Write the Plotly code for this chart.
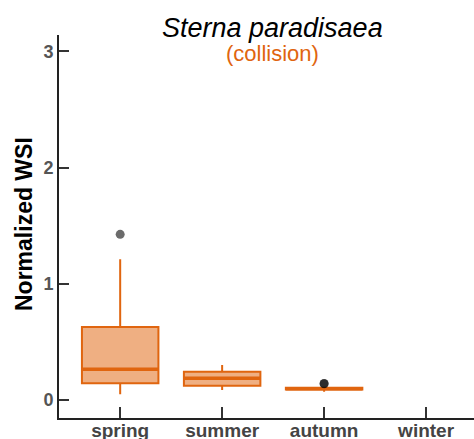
import plotly.graph_objects as go

# Seasonal normalized WSI summary for Sterna paradisaea (collision)
seasons = ["spring", "summer", "autumn", "winter"]
box_seasons = ["spring", "summer", "autumn"]
q1 = [0.143, 0.123, 0.090]
median = [0.264, 0.186, 0.097]
q3 = [0.627, 0.243, 0.105]
lower_whisker = [0.050, 0.086, 0.070]
upper_whisker = [1.210, 0.300, 0.105]

outlier_seasons = ["spring", "autumn", "autumn"]
outlier_values = [1.425, 0.140, 0.142]

y_ticks = [0, 1, 2, 3]

ORANGE = "#E0650F"
FILL = "rgba(224,101,15,0.52)"
FONT = "Liberation Sans, Arial, sans-serif"

W, H = 474, 439
ML, MR, MT, MB = 59, 0, 35, 21
PW, PH = W - ML - MR, H - MT - MB


def px_x(x):
    return (x - ML) / PW


def px_y(y):
    return (H - MB - y) / PH


fig = go.Figure()

# boxes with whiskers
fig.add_trace(go.Box(
    x=box_seasons, q1=q1, median=median, q3=q3,
    lowerfence=lower_whisker, upperfence=upper_whisker,
    boxpoints=False, width=0.75, whiskerwidth=0,
    line=dict(color=ORANGE, width=2), fillcolor=FILL,
    showlegend=False, hoverinfo="skip",
))

# heavier median bar drawn as a collapsed box at the median
fig.add_trace(go.Box(
    x=box_seasons, q1=median, median=median, q3=median,
    lowerfence=median, upperfence=median,
    boxpoints=False, width=0.75, whiskerwidth=0,
    line=dict(color=ORANGE, width=3.5), fillcolor=ORANGE,
    showlegend=False, hoverinfo="skip",
))

# outliers
fig.add_trace(go.Scatter(
    x=outlier_seasons, y=outlier_values, mode="markers",
    marker=dict(color="rgba(0,0,0,0.58)", size=9, line=dict(width=0)),
    showlegend=False, hoverinfo="skip",
))

fig.update_layout(
    width=W, height=H,
    margin=dict(l=ML, r=MR, t=MT, b=MB),
    plot_bgcolor="white", paper_bgcolor="white",
    boxmode="overlay",
    font=dict(family=FONT),
    annotations=[
        dict(text="<i>Sterna paradisaea</i>", x=px_x(272), y=px_y(28),
             xref="paper", yref="paper", xanchor="center", yanchor="middle",
             showarrow=False, font=dict(size=27, color="black", family=FONT)),
        dict(text="(collision)", x=px_x(272), y=px_y(53),
             xref="paper", yref="paper", xanchor="center", yanchor="middle",
             showarrow=False, font=dict(size=22, color=ORANGE, family=FONT)),
        dict(text="<b>Normalized WSI</b>", x=px_x(24), y=px_y(224),
             xref="paper", yref="paper", xanchor="center", yanchor="middle",
             textangle=-90, showarrow=False,
             font=dict(size=23, color="black", family=FONT)),
    ],
)

fig.update_xaxes(
    type="category", categoryorder="array", categoryarray=seasons,
    range=[-0.6, 3.47], automargin=False,
    showline=True, linecolor="#222", linewidth=2,
    ticks="inside", ticklen=11, tickwidth=2, tickcolor="#333",
    tickfont=dict(size=19, color="#444", weight="bold"),
    ticklabelstandoff=-6,
    showgrid=False, zeroline=False, fixedrange=True,
)

fig.update_yaxes(
    range=[-0.155, 3.14], automargin=False,
    tickvals=y_ticks, ticktext=[str(v) for v in y_ticks],
    showline=True, linecolor="#222", linewidth=2,
    ticks="inside", ticklen=10, tickwidth=2, tickcolor="#333",
    tickfont=dict(size=18, color="#555", weight="bold"),
    showgrid=False, zeroline=False, fixedrange=True,
)

fig.write_html("out.html")
